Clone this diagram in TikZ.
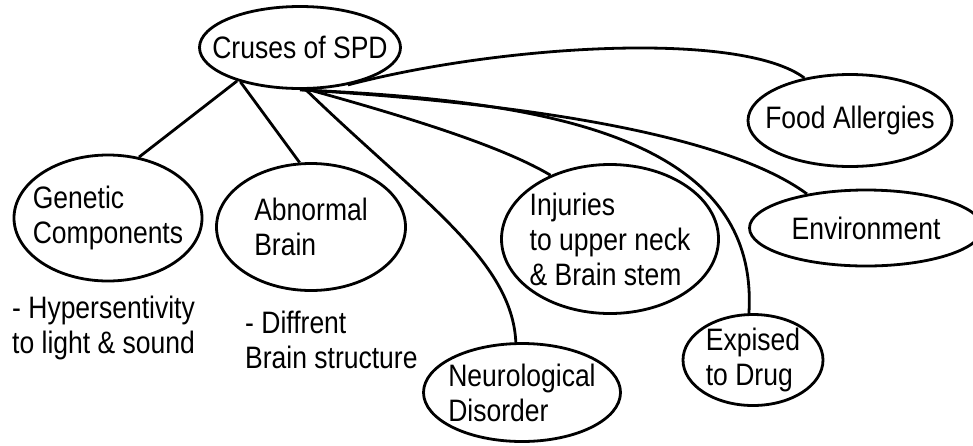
\documentclass[tikz,border=0pt]{standalone}
\usepackage{fontspec}
\setmainfont{Liberation Sans}[FakeStretch=0.855]
\usetikzlibrary{shapes.geometric}

\tikzset{
  cause/.style 2 args={draw, ellipse, line width=2.8pt, inner sep=-20pt,
    minimum width=#1, minimum height=#2, align=left},
  note/.style={anchor=north west, inner sep=0pt, align=left},
  link/.style={line width=2.8pt},
}

\begin{document}
\begin{tikzpicture}[x=1pt, y=-1pt, font=\fontsize{31pt}{35pt}\selectfont]
    \useasboundingbox (0,0) rectangle (973,445);
    % causes
    \node[cause={201pt}{82pt}] (root) at (300,47.5) {Cruses of SPD};
    \node[cause={188pt}{126pt}] (gen) at (108,218) {Genetic\\Components};
    \node[cause={189pt}{127pt}] (abn) at (311,227) {Abnormal\\Brain};
    \node[cause={217pt}{149pt}] (inj) at (610,239) {Injuries\\to upper neck\\\& Brain stem};
    \node[cause={197pt}{98pt}] (neu) at (522,392.5) {Neurological\\Disorder};
    \node[cause={140pt}{91pt}] (exp) at (753,360) {Expised\\to Drug};
    \node[cause={233pt}{76pt}] (env) at (866,228) {Environment};
    \node[cause={204pt}{92pt}] (food) at (850,120.5) {Food Allergies};
    % notes
    \node[note] (hyp) at (12,295.5) {- Hypersentivity\\to light \& sound};
    \node[note] (dif) at (245,310.5) {- Diffrent\\Brain structure};
    % links
    \draw[link] (root.-152) -- (gen.63);
    \draw[link] (root.-150) -- (abn.100);
    \draw[link] (root.-82) .. controls (420,200) and (512,260) .. (neu.97);
    \draw[link] (root.-78) .. controls (400,115) and (500,145) .. (inj.133);
    \draw[link] (root.-90) .. controls (540,100) and (760,135) .. (exp.95);
    \draw[link] (root.-87) .. controls (500,102) and (720,130) .. (env.150);
    \draw[link] (root.-38) .. controls (500,45) and (740,30) .. (food.137);
\end{tikzpicture}
\end{document}
